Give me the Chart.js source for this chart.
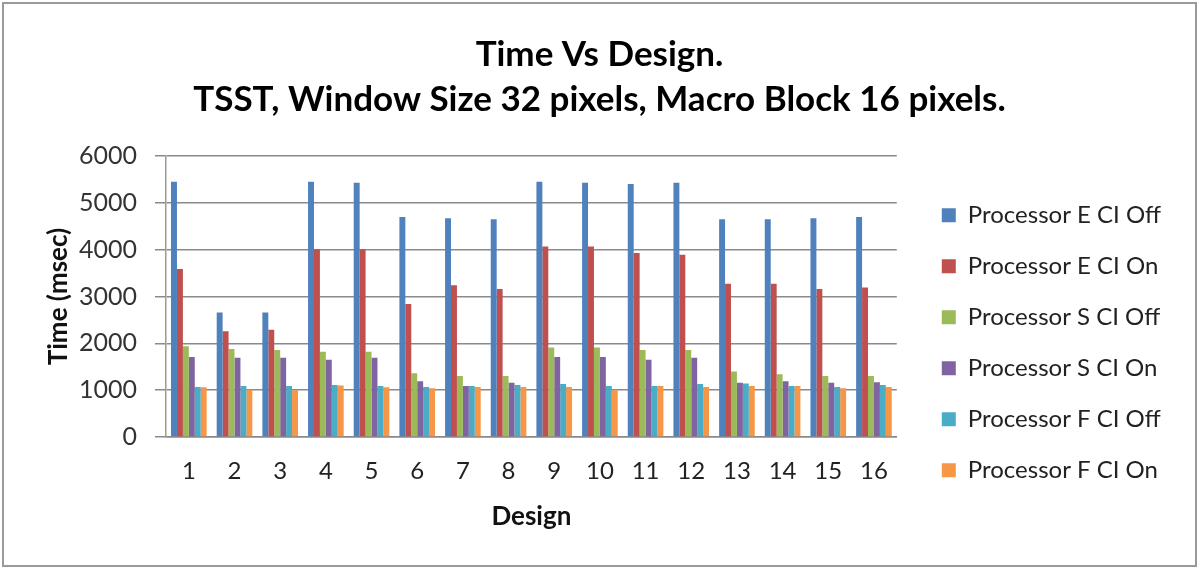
<!DOCTYPE html>
<html>
<head>
<meta charset="utf-8">
<script src="https://cdn.jsdelivr.net/npm/chart.js@4.4.1/dist/chart.umd.min.js"></script>
<style>
  html, body { margin: 0; padding: 0; background: #fff; }
  #frame {
    position: absolute; left: 2px; top: 2px;
    width: 1191px; height: 561px;
    border: 2px solid #9a9a9a;
    background: #fff;
  }
  #chartWrap { position: relative; width: 1191px; height: 561px; }
</style>
</head>
<body>
<div id="frame">
  <div id="chartWrap"><canvas id="timeDesignChart"></canvas></div>
</div>
<script>
// Time vs Design chart data
const designs = ['1', '2', '3', '4', '5', '6', '7', '8', '9', '10', '11', '12', '13', '14', '15', '16'];
const yTicks = [0, 1000, 2000, 3000, 4000, 5000, 6000];

const procEOff = [5450, 2660, 2660, 5450, 5430, 4700, 4670, 4650, 5450, 5430, 5400, 5430, 4650, 4650, 4670, 4700];
const procEOn  = [3590, 2260, 2290, 4010, 4010, 2840, 3240, 3160, 4070, 4070, 3930, 3890, 3270, 3270, 3160, 3190];
const procSOff = [1940, 1880, 1860, 1820, 1820, 1360, 1300, 1300, 1910, 1910, 1860, 1860, 1400, 1340, 1300, 1300];
const procSOn  = [1710, 1690, 1690, 1650, 1690, 1190, 1090, 1160, 1710, 1710, 1650, 1690, 1160, 1190, 1160, 1170];
const procFOff = [1070, 1090, 1090, 1110, 1090, 1070, 1090, 1110, 1130, 1090, 1090, 1130, 1140, 1090, 1070, 1110];
const procFOn  = [1060, 1010, 1000, 1100, 1060, 1040, 1070, 1070, 1070, 1000, 1090, 1070, 1090, 1090, 1040, 1070];

const seriesNames = ['Processor E CI Off', 'Processor E CI On', 'Processor S CI Off',
                     'Processor S CI On', 'Processor F CI Off', 'Processor F CI On'];
const seriesValues = [procEOff, procEOn, procSOff, procSOn, procFOff, procFOn];
const seriesColors = ['#4F81BD', '#C0504D', '#9BBB59', '#8064A2', '#4BACC6', '#F79646'];

// push the legend a bit away from the plot (Excel leaves a wider gap)
const legendGap = {
  id: 'legendGap',
  afterLayout: function(chart) {
    if (chart.legend) {
      chart.legend.left += 18;
      chart.legend.right += 18;
    }
  }
};

function createTimeDesignChart() {
  const ctx = document.getElementById('timeDesignChart').getContext('2d');

  const datasets = seriesNames.map(function(name, i) {
    return {
      label: name,
      data: seriesValues[i],
      backgroundColor: seriesColors[i],
      borderWidth: 0,
      categoryPercentage: 0.78,
      barPercentage: 1.0
    };
  });

  return new Chart(ctx, {
    type: 'bar',
    data: { labels: designs, datasets: datasets },
    plugins: [legendGap],
    options: {
      responsive: true,
      maintainAspectRatio: false,
      animation: false,
      layout: { padding: { top: 28, left: 42, right: 42, bottom: 33 } },
      plugins: {
        title: {
          display: true,
          text: ['Time Vs Design.', 'TSST, Window Size 32 pixels, Macro Block 16 pixels.'],
          color: '#000',
          font: { family: 'Lato', size: 35, weight: 'bold', lineHeight: 1.286 },
          padding: { top: 0, bottom: 34 }
        },
        legend: {
          position: 'right',
          fullSize: true,
          title: {
            display: true,
            text: ' ',
            font: { family: 'Lato', size: 12 },
            padding: { top: 0, bottom: 107 }
          },
          labels: {
            color: '#222',
            font: { family: 'Lato', size: 24 },
            boxWidth: 14,
            boxHeight: 14,
            padding: 27
          }
        },
        tooltip: { enabled: false }
      },
      scales: {
        x: {
          grid: { display: false },
          border: { display: true, color: '#8a8a8a', width: 1.5 },
          ticks: {
            color: '#222',
            font: { family: 'Lato', size: 24 },
            padding: 12,
            maxRotation: 0
          },
          title: {
            display: true,
            text: 'Design',
            color: '#111',
            font: { family: 'Lato', size: 26, weight: 'bold' },
            padding: { top: 3, bottom: 0 }
          }
        },
        y: {
          min: 0,
          max: 6000,
          afterBuildTicks: function(axis) {
            axis.ticks = yTicks.map(function(v) { return { value: v }; });
          },
          grid: {
            color: '#8a8a8a',
            lineWidth: 1.5,
            tickLength: 11,
            drawTicks: true
          },
          border: { display: true, color: '#9a9a9a', width: 1.5 },
          ticks: {
            color: '#333',
            font: { family: 'Lato', size: 25 },
            padding: 18,
            callback: function(value) { return String(value); }
          },
          title: {
            display: true,
            text: 'Time (msec)',
            color: '#111',
            font: { family: 'Lato', size: 26, weight: 'bold', lineHeight: 1.0 },
            padding: { top: 0, bottom: -11 }
          }
        }
      }
    }
  });
}

document.addEventListener('DOMContentLoaded', function() {
  if (document.getElementById('timeDesignChart')) {
    createTimeDesignChart();
  }
});
</script>
</body>
</html>
